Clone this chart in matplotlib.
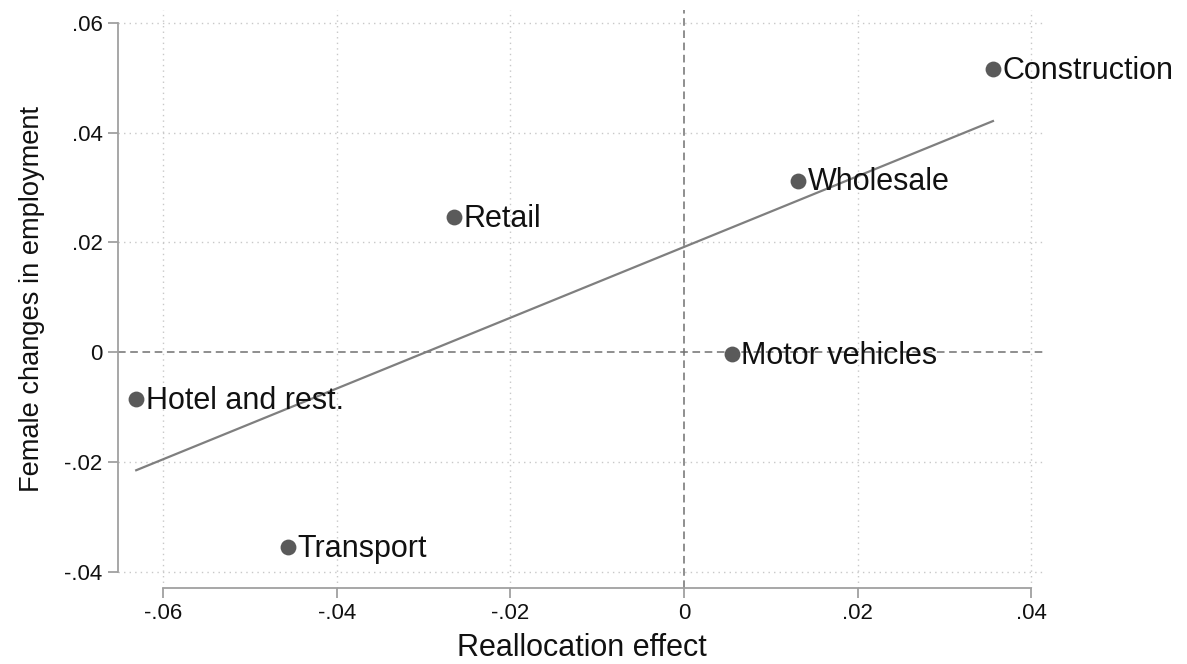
import numpy as np
import matplotlib
matplotlib.use("Agg")
import matplotlib.pyplot as plt
from matplotlib.ticker import FuncFormatter

sectors = ["Construction", "Wholesale", "Retail", "Motor vehicles",
           "Hotel and rest.", "Transport"]
realloc = [0.0356, 0.0131, -0.0265, 0.0055, -0.0631, -0.0456]
female_chg = [0.0516, 0.0312, 0.0246, -0.0004, -0.0086, -0.0356]

x_ticks = [-0.06, -0.04, -0.02, 0, 0.02, 0.04]
y_ticks = [-0.04, -0.02, 0, 0.02, 0.04, 0.06]


def stata_fmt(v, pos):
    if abs(v) < 1e-12:
        return "0"
    s = "%.2f" % v
    return s.replace("0.", ".")


plt.rcParams['font.family'] = ['Liberation Sans', 'DejaVu Sans']

fig = plt.figure(figsize=(11.87, 6.64), dpi=100)
ax = fig.add_axes([0.0994, 0.1145, 0.781, 0.8705])

x = np.array(realloc)
y = np.array(female_chg)

# grid and reference lines
for t in x_ticks:
    if t != 0:
        ax.axvline(t, color="#c8c8c8", lw=1, ls=(0, (1, 3)), zorder=0)
for t in y_ticks:
    if t != 0:
        ax.axhline(t, color="#c8c8c8", lw=1, ls=(0, (1, 3)), zorder=0)
ax.axvline(0, color="#707070", lw=1.1, ls=(0, (5, 3)), zorder=1)
ax.axhline(0, color="#707070", lw=1.1, ls=(0, (5, 3)), zorder=1)

# linear fit
b, a = np.polyfit(x, y, 1)
xf = np.array([x.min(), x.max()])
ax.plot(xf, a + b * xf, color="#7f7f7f", lw=1.6, zorder=2)

ax.scatter(x, y, s=130, color="#5a5a5a", zorder=3, linewidths=0)
for name, xi, yi in zip(sectors, x, y):
    ax.annotate(name, (xi, yi), xytext=(7, -1), textcoords="offset points",
                ha="left", va="center", fontsize=22, color="#111111",
                zorder=4)

ax.set_xlim(-0.0652, 0.0416)
ax.set_ylim(-0.0430, 0.0624)
ax.set_xticks(x_ticks)
ax.set_yticks(y_ticks)
ax.xaxis.set_major_formatter(FuncFormatter(stata_fmt))
ax.yaxis.set_major_formatter(FuncFormatter(stata_fmt))

for side in ["top", "right"]:
    ax.spines[side].set_visible(False)
ax.spines["left"].set_bounds(-0.04, 0.06)
ax.spines["bottom"].set_bounds(-0.06, 0.04)
for side in ["left", "bottom"]:
    ax.spines[side].set_color("#a0a0a0")
    ax.spines[side].set_linewidth(1.3)
ax.tick_params(axis="both", colors="#a0a0a0", length=7, width=1.3,
               labelcolor="#111111", labelsize=16, pad=4)

ax.set_xlabel("Reallocation effect", fontsize=22, color="#111111",
              labelpad=6)
ax.set_ylabel("Female changes in employment", fontsize=19.6,
              color="#111111", labelpad=14)

fig.savefig("out.png", dpi=100, facecolor="white")
